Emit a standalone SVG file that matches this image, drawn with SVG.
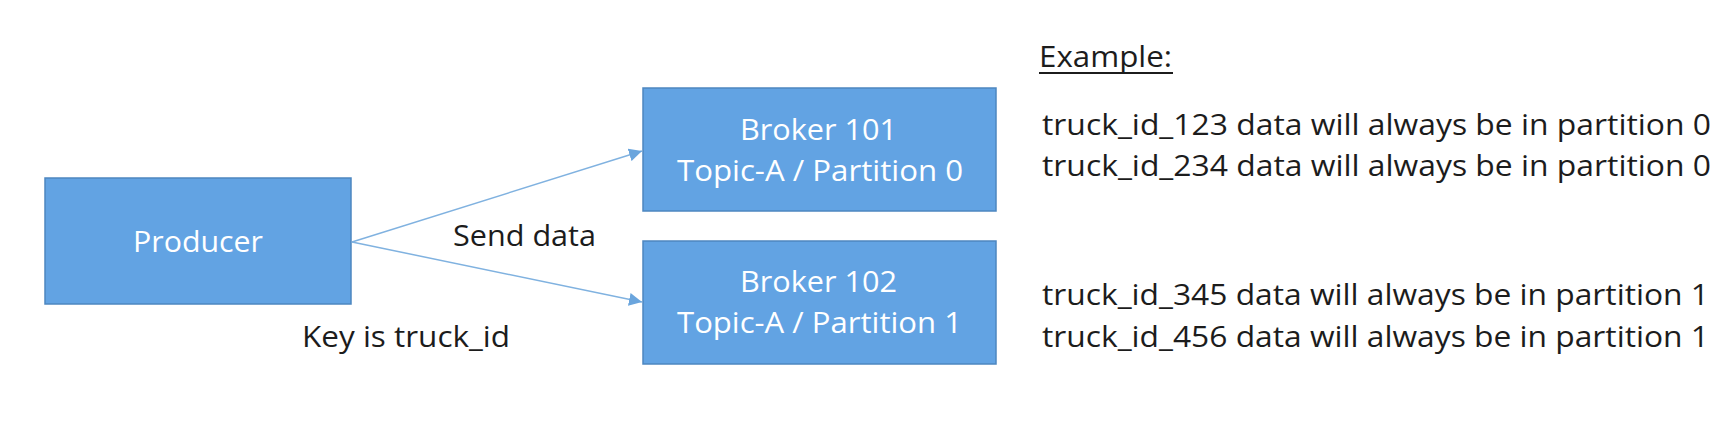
<svg xmlns="http://www.w3.org/2000/svg" width="1728" height="421" viewBox="0 0 1728 421">
<style>
.box{fill:#62a3e3;stroke:#4d87c0;stroke-width:1.5}
.wt{font-family:"Open Sans","Liberation Sans",sans-serif;font-size:30px;fill:#ffffff}
.bt{font-family:"Open Sans","Liberation Sans",sans-serif;font-size:30px;fill:#1c1c1c}
.conn{stroke:#80b2e0;stroke-width:1.5;fill:none}
</style>
<defs>
<marker id="arr" viewBox="0 0 10 10" refX="10" refY="5" markerWidth="13" markerHeight="13" markerUnits="userSpaceOnUse" orient="auto">
<path d="M0,0 L10,5 L0,10 Z" fill="#6aa5dd"/>
</marker>
</defs>
<rect width="1728" height="421" fill="#ffffff"/>
<g id="connectors">
<line class="conn" x1="352" y1="242" x2="642" y2="151" marker-end="url(#arr)"/>
<line class="conn" x1="352" y1="242" x2="642" y2="302" marker-end="url(#arr)"/>
<text class="bt" x="453" y="246" textLength="143" lengthAdjust="spacingAndGlyphs">Send data</text>
</g>
<g id="producer">
<rect class="box" x="45" y="178" width="306" height="126"/>
<text class="wt" x="133" y="252" textLength="130" lengthAdjust="spacingAndGlyphs">Producer</text>
</g>
<g id="broker101">
<rect class="box" x="643" y="88" width="353" height="123"/>
<text class="wt" x="740" y="140" textLength="157" lengthAdjust="spacingAndGlyphs">Broker 101</text>
<text class="wt" x="677" y="181" textLength="286" lengthAdjust="spacingAndGlyphs">Topic-A / Partition 0</text>
</g>
<g id="broker102">
<rect class="box" x="643" y="241" width="353" height="123"/>
<text class="wt" x="740" y="292" textLength="157" lengthAdjust="spacingAndGlyphs">Broker 102</text>
<text class="wt" x="677" y="333" textLength="285" lengthAdjust="spacingAndGlyphs">Topic-A / Partition 1</text>
</g>
<g id="key-label">
<text class="bt" x="302" y="347" textLength="208" lengthAdjust="spacingAndGlyphs">Key is truck_id</text>
</g>
<g id="example">
<text class="bt" x="1039" y="67" textLength="133" lengthAdjust="spacingAndGlyphs">Example:</text>
<line x1="1039" y1="73" x2="1173" y2="73" stroke="#1c1c1c" stroke-width="2"/>
<text class="bt" x="1042" y="135" textLength="669" lengthAdjust="spacingAndGlyphs">truck_id_123 data will always be in partition 0</text>
<text class="bt" x="1042" y="176" textLength="669" lengthAdjust="spacingAndGlyphs">truck_id_234 data will always be in partition 0</text>
<text class="bt" x="1042" y="305" textLength="667" lengthAdjust="spacingAndGlyphs">truck_id_345 data will always be in partition 1</text>
<text class="bt" x="1042" y="347" textLength="667" lengthAdjust="spacingAndGlyphs">truck_id_456 data will always be in partition 1</text>
</g>
</svg>
